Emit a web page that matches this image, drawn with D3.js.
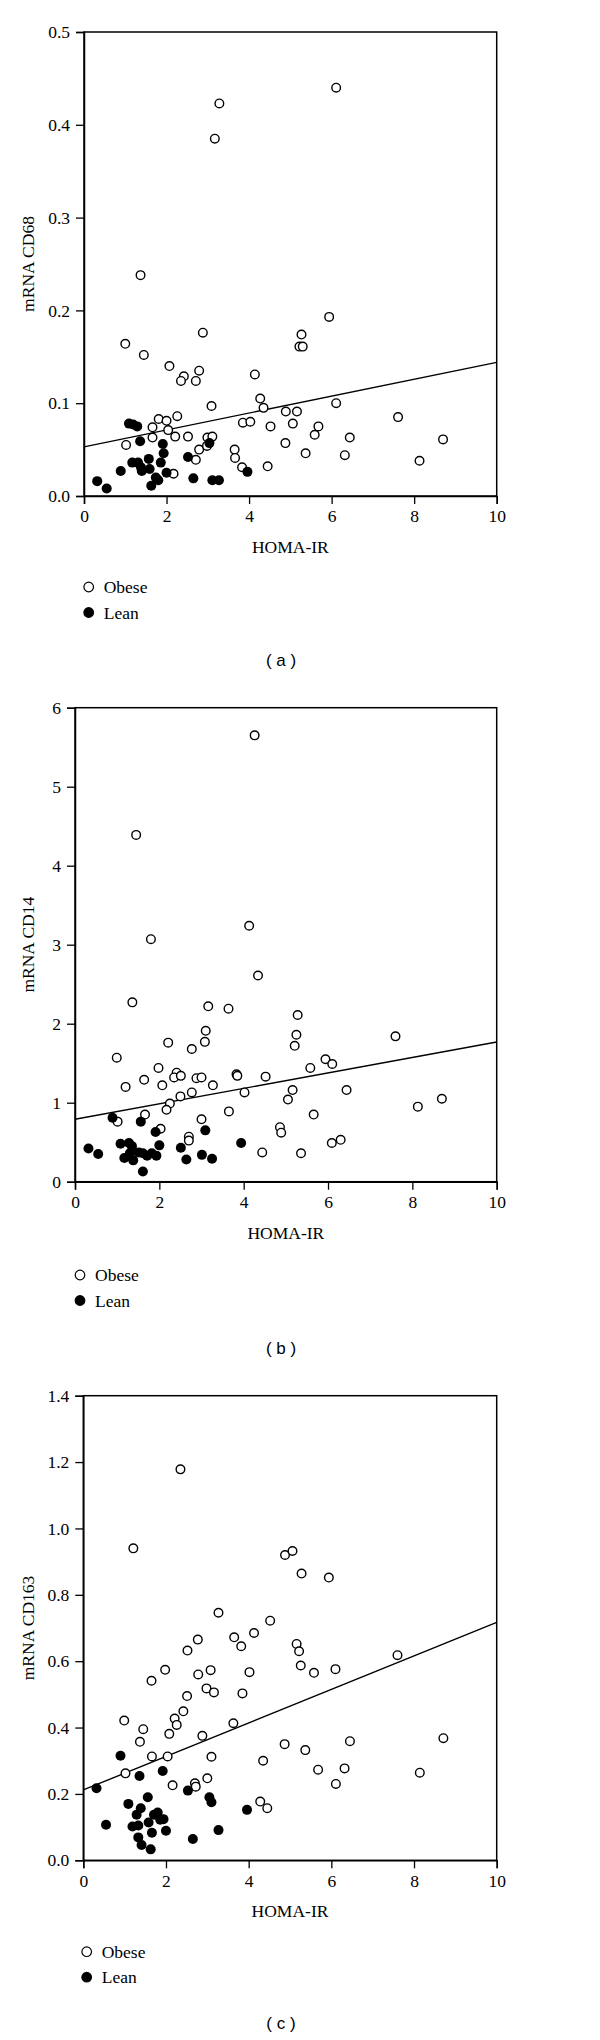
<!DOCTYPE html>
<html>
<head>
<meta charset="utf-8">
<script src="https://cdn.jsdelivr.net/npm/d3@7"></script>
<style>
  body { margin: 0; background: #fff; }
  text { font-family: "Liberation Serif", "Times New Roman", serif; fill: #000; }
</style>
</head>
<body>
<div id="chart"></div>
<script>
// HOMA-IR vs mRNA, three panels (a) CD68, (b) CD14, (c) CD163
var xTicks = [0, 2, 4, 6, 8, 10];
var legendLabels = ["Obese", "Lean"];

// panel (a) CD68
var obeseA = [[6.11,0.440],[3.28,0.423],[3.17,0.385],[1.37,0.238],[5.94,0.193],[2.88,0.176],[5.27,0.174],
  [5.22,0.161],[5.30,0.161],[1.00,0.164],[1.45,0.152],[2.07,0.140],[2.42,0.129],[2.35,0.124],[2.79,0.135],
  [2.71,0.124],[4.14,0.131],[4.27,0.105],[4.35,0.095],[3.09,0.097],[6.11,0.100],[4.89,0.091],[5.16,0.091],
  [2.26,0.086],[1.81,0.083],[2.00,0.081],[3.85,0.079],[4.03,0.080],[5.06,0.078],[4.52,0.075],[5.68,0.075],
  [7.61,0.085],[1.66,0.074],[2.04,0.071],[1.66,0.063],[2.21,0.064],[2.52,0.064],[2.99,0.063],[3.11,0.064],
  [1.02,0.055],[2.79,0.050],[2.71,0.039],[2.17,0.024],[3.65,0.050],[3.66,0.041],[3.83,0.031],[4.45,0.032],
  [5.37,0.046],[4.88,0.057],[5.59,0.066],[6.32,0.044],[6.44,0.063],[8.13,0.038],[8.70,0.061],[2.98,0.054]];
var leanA = [[0.32,0.016],[0.55,0.008],[0.89,0.027],[1.09,0.078],[1.19,0.077],[1.29,0.075],[1.36,0.059],
  [1.17,0.036],[1.31,0.036],[1.38,0.031],[1.40,0.027],[1.57,0.040],[1.59,0.029],[1.63,0.011],[1.74,0.020],
  [1.80,0.017],[1.86,0.036],[1.91,0.056],[1.93,0.046],[2.00,0.025],[2.52,0.042],[2.65,0.019],[3.04,0.057],
  [3.11,0.017],[3.27,0.017],[3.96,0.026]];
var fitA = [0.053, 0.0091];   // intercept, slope
var yTicksA = [0, 0.1, 0.2, 0.3, 0.4, 0.5];

// panel (b) CD14
var obeseB = [[4.26,5.65],[1.45,4.39],[1.80,3.07],[4.13,3.24],[4.34,2.61],[1.36,2.27],[3.16,2.22],[3.64,2.19],
  [5.28,2.11],[7.60,1.84],[3.10,1.91],[3.08,1.77],[2.21,1.76],[2.77,1.68],[5.25,1.86],[5.21,1.72],[0.99,1.57],
  [5.94,1.55],[6.10,1.49],[5.58,1.44],[1.98,1.44],[2.41,1.38],[2.35,1.32],[2.51,1.34],[2.88,1.31],[3.00,1.32],
  [1.64,1.29],[1.20,1.20],[2.07,1.22],[3.27,1.22],[3.83,1.36],[3.85,1.34],[4.52,1.33],[4.02,1.13],[2.77,1.13],
  [2.50,1.08],[2.25,0.99],[2.17,0.91],[5.16,1.16],[5.05,1.04],[6.44,1.16],[8.70,1.05],[8.13,0.95],[3.65,0.89],
  [5.66,0.85],[1.66,0.85],[1.01,0.76],[3.00,0.79],[2.03,0.67],[4.86,0.69],[4.89,0.62],[2.70,0.57],[2.70,0.52],
  [6.09,0.49],[6.30,0.53],[4.44,0.37],[5.36,0.36]];
var leanB = [[0.32,0.42],[0.55,0.35],[0.89,0.81],[1.08,0.48],[1.17,0.30],[1.28,0.49],[1.35,0.45],[1.30,0.36],
  [1.38,0.27],[1.56,0.76],[1.61,0.13],[1.51,0.37],[1.61,0.36],[1.71,0.33],[1.82,0.36],[1.93,0.33],[1.91,0.63],
  [2.00,0.46],[2.51,0.43],[2.64,0.28],[3.01,0.34],[3.09,0.65],[3.25,0.29],[3.94,0.49]];
var fitB = [0.79, 0.0978];
var yTicksB = [0, 1, 2, 3, 4, 5, 6];

// panel (c) CD163
var obeseC = [[2.35,1.178],[1.21,0.940],[4.88,0.920],[5.06,0.932],[5.28,0.864],[5.94,0.852],[3.27,0.746],
  [4.52,0.722],[4.13,0.685],[3.65,0.672],[3.82,0.645],[2.77,0.665],[2.52,0.632],[5.16,0.652],[5.22,0.630],
  [5.26,0.587],[5.58,0.565],[6.10,0.576],[7.60,0.618],[1.98,0.574],[1.65,0.541],[2.78,0.560],[3.08,0.573],
  [4.02,0.567],[2.98,0.518],[3.16,0.506],[2.51,0.495],[3.85,0.503],[2.42,0.449],[2.21,0.427],[2.26,0.408],
  [0.99,0.421],[1.45,0.395],[1.37,0.357],[2.08,0.381],[2.88,0.375],[3.63,0.413],[1.66,0.313],[2.04,0.313],
  [3.10,0.312],[1.02,0.262],[2.16,0.226],[2.70,0.232],[2.72,0.222],[3.00,0.247],[4.35,0.300],[4.87,0.350],
  [5.37,0.332],[5.68,0.273],[6.11,0.230],[6.32,0.277],[6.45,0.359],[8.14,0.264],[8.71,0.368],[4.28,0.177],
  [4.45,0.157]];
var leanC = [[0.32,0.217],[0.55,0.107],[0.90,0.315],[1.09,0.170],[1.36,0.254],[1.19,0.102],[1.29,0.137],
  [1.39,0.157],[1.33,0.105],[1.33,0.069],[1.41,0.046],[1.56,0.190],[1.58,0.114],[1.63,0.033],[1.66,0.083],
  [1.71,0.137],[1.80,0.144],[1.86,0.122],[1.94,0.124],[1.92,0.269],[2.00,0.089],[2.53,0.210],[2.65,0.064],
  [3.05,0.190],[3.10,0.175],[3.27,0.091],[3.96,0.152]];
var fitC = [0.212, 0.0505];
var yTicksC = [0, 0.2, 0.4, 0.6, 0.8, 1.0, 1.2, 1.4];

var svg = d3.select("#chart").append("svg")
  .attr("width", 600)
  .attr("height", 2040);

function drawPanel(p) {
  var x = d3.scaleLinear().domain([0, 10]).range([p.left, 496.7]);
  var y = d3.scaleLinear().domain([0, p.yMax]).range([p.bottom, p.top]);
  var g = svg.append("g");

  // frame
  g.append("rect")
    .attr("x", x(0)).attr("y", y(p.yMax))
    .attr("width", x(10) - x(0)).attr("height", y(0) - y(p.yMax))
    .attr("fill", "none").attr("stroke", "#000").attr("stroke-width", 1.5);

  var xAxis = g.append("g")
    .attr("transform", "translate(0," + y(0) + ")")
    .call(d3.axisBottom(x).tickValues(xTicks).tickSize(8).tickPadding(6).tickFormat(d3.format("d")));
  var yAxis = g.append("g")
    .attr("transform", "translate(" + x(0) + ",0)")
    .call(d3.axisLeft(y).tickValues(p.yTicks).tickSize(8).tickPadding(6).tickFormat(d3.format(p.fmt)));
  [xAxis, yAxis].forEach(function(a) {
    a.select(".domain").attr("stroke-width", 1.5);
    a.selectAll(".tick line").attr("stroke-width", 1.3);
    a.selectAll("text").style("font-size", "17.5px").style("font-family", "Liberation Serif");
  });

  // regression line
  g.append("line")
    .attr("x1", x(0)).attr("y1", y(p.fit[0]))
    .attr("x2", x(10)).attr("y2", y(p.fit[0] + p.fit[1] * 10))
    .attr("stroke", "#000").attr("stroke-width", 1.4);

  g.selectAll(".obese").data(p.obese).enter().append("circle")
    .attr("cx", function(d) { return x(d[0]); })
    .attr("cy", function(d) { return y(d[1]); })
    .attr("r", 4.3)
    .attr("fill", "#fff").attr("stroke", "#000").attr("stroke-width", 1.4);

  g.selectAll(".lean").data(p.lean).enter().append("circle")
    .attr("cx", function(d) { return x(d[0]); })
    .attr("cy", function(d) { return y(d[1]); })
    .attr("r", 5)
    .attr("fill", "#000");

  // axis titles
  g.append("text")
    .attr("x", (x(0) + x(10)) / 2).attr("y", y(0) + 51).attr("dy", "0.35em")
    .attr("text-anchor", "middle").style("font-size", "17.5px")
    .text("HOMA-IR");
  g.append("text")
    .attr("transform", "translate(28," + (y(0) + y(p.yMax)) / 2 + ") rotate(-90)")
    .attr("dy", "0.35em").attr("text-anchor", "middle").style("font-size", "17.5px")
    .text(p.yLabel);

  // legend
  legendLabels.forEach(function(lab, i) {
    var ly = p.legendY + i * 25.5;
    g.append("circle")
      .attr("cx", p.legendX).attr("cy", ly).attr("r", 4.8)
      .attr("fill", i === 0 ? "#fff" : "#000")
      .attr("stroke", "#000").attr("stroke-width", 1.2);
    g.append("text")
      .attr("x", p.legendX + 15).attr("y", ly).attr("dy", "0.35em")
      .style("font-size", "17.5px").text(lab);
  });

  g.append("text")
    .attr("x", 281).attr("y", p.capY).attr("dy", "0.35em")
    .attr("text-anchor", "middle")
    .style("font-family", "Liberation Sans, Arial, sans-serif").style("font-size", "17px")
    .text(p.caption);
}

drawPanel({ left: 84, top: 32, bottom: 496, yMax: 0.5, yTicks: yTicksA, fmt: ".1f",
  obese: obeseA, lean: leanA, fit: fitA, yLabel: "mRNA CD68",
  legendX: 88.7, legendY: 587, capY: 660, caption: "( a )" });
drawPanel({ left: 75, top: 707.7, bottom: 1181.7, yMax: 6, yTicks: yTicksB, fmt: "d",
  obese: obeseB, lean: leanB, fit: fitB, yLabel: "mRNA CD14",
  legendX: 80, legendY: 1275, capY: 1348, caption: "( b )" });
drawPanel({ left: 83.3, top: 1395.7, bottom: 1860.3, yMax: 1.4, yTicks: yTicksC, fmt: ".1f",
  obese: obeseC, lean: leanC, fit: fitC, yLabel: "mRNA CD163",
  legendX: 86.7, legendY: 1951.7, capY: 2023, caption: "( c )" });
</script>
</body>
</html>
